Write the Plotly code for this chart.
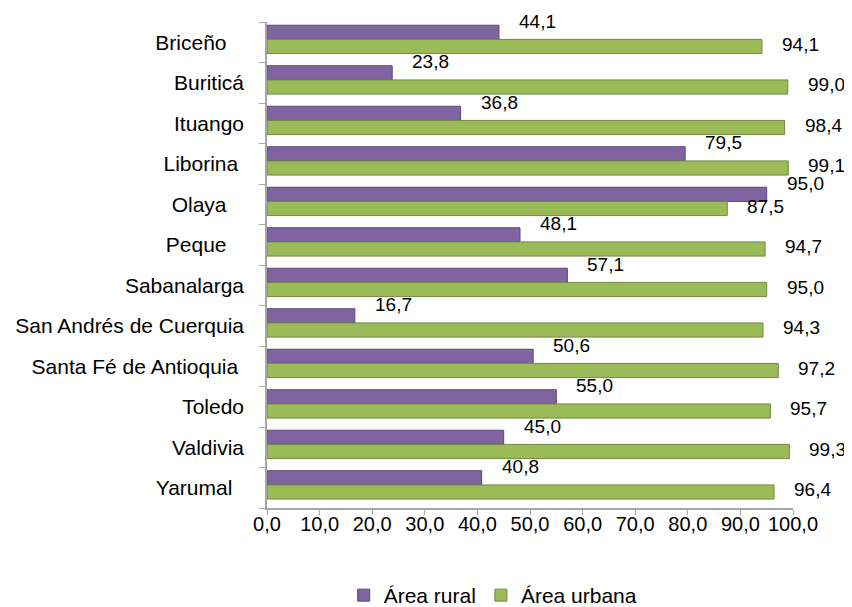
import plotly.graph_objects as go

categories = ["Briceño", "Buriticá", "Ituango", "Liborina", "Olaya", "Peque",
              "Sabanalarga", "San Andrés de Cuerquia", "Santa Fé de Antioquia",
              "Toledo", "Valdivia", "Yarumal"]
# labels as written in the source (some carry trailing spaces)
category_labels = ["Briceño\u00a0\u00a0\u00a0", "Buriticá", "Ituango", "Liborina\u00a0", "Olaya\u00a0\u00a0\u00a0",
                   "Peque\u00a0\u00a0\u00a0", "Sabanalarga", "San Andrés de Cuerquia",
                   "Santa Fé de Antioquia\u00a0", "Toledo", "Valdivia", "Yarumal\u00a0\u00a0"]
rural = [44.1, 23.8, 36.8, 79.5, 95.0, 48.1, 57.1, 16.7, 50.6, 55.0, 45.0, 40.8]
urbana = [94.1, 99.0, 98.4, 99.1, 87.5, 94.7, 95.0, 94.3, 97.2, 95.7, 99.3, 96.4]
tick_vals = [0, 10, 20, 30, 40, 50, 60, 70, 80, 90, 100]

FONT = "Liberation Sans, Arial, sans-serif"

fig = go.Figure()
fig.add_trace(go.Bar(
    y=categories, x=rural, orientation="h", name="Área rural",
    width=0.35, offset=-0.42,
    marker=dict(color="#8064A2", line=dict(color="#5C4776", width=1)),
))
fig.add_trace(go.Bar(
    y=categories, x=urbana, orientation="h", name="Área urbana",
    width=0.35, offset=-0.07,
    marker=dict(color="#9BBB59", line=dict(color="#71893F", width=1)),
))

def fmt(v):
    return f"{v:.1f}".replace(".", ",")

annotations = []
for c, v in zip(categories, rural):
    annotations.append(dict(x=v, y=c, xref="x", yref="y", text=fmt(v),
                            showarrow=False, xanchor="left", yanchor="middle",
                            xshift=18, yshift=21, font=dict(size=19, family=FONT, color="#000")))
for c, v in zip(categories, urbana):
    annotations.append(dict(x=v, y=c, xref="x", yref="y", text=fmt(v),
                            showarrow=False, xanchor="left", yanchor="middle",
                            xshift=18, yshift=-2, font=dict(size=19, family=FONT, color="#000")))

n = len(categories)
# page body adds an 8px margin, so the figure is 8px smaller than the window
fig.update_layout(
    width=844, height=599,
    barmode="group",
    separators=",.",
    paper_bgcolor="white", plot_bgcolor="white",
    font=dict(family=FONT, size=21, color="#000000"),
    margin=dict(l=259, r=59, t=14, b=99, autoexpand=False),
    annotations=annotations,
    legend=dict(orientation="h", x=0.43, xanchor="center",
                y=-0.18, yanchor="middle",
                font=dict(size=21), itemwidth=30, traceorder="normal"),
    xaxis=dict(range=[0, 100], tickvals=tick_vals, tickformat=".1f",
               showgrid=False, zeroline=False, showline=True, linecolor="#A6A6A6",
               linewidth=1.5, ticks="outside", tickcolor="#A6A6A6", ticklen=5,
               ticklabelstandoff=-8, tickfont=dict(size=20), automargin=False),
    yaxis=dict(range=[n - 0.5, -0.5], showgrid=False, showline=True,
               linecolor="#A6A6A6", linewidth=1.5, ticks="outside",
               tickvals=categories, ticktext=category_labels,
               tickson="boundaries", tickcolor="#A6A6A6", ticklen=6,
               ticklabelstandoff=17, tickfont=dict(size=21), automargin=False),
)

fig.write_html("out.html")
